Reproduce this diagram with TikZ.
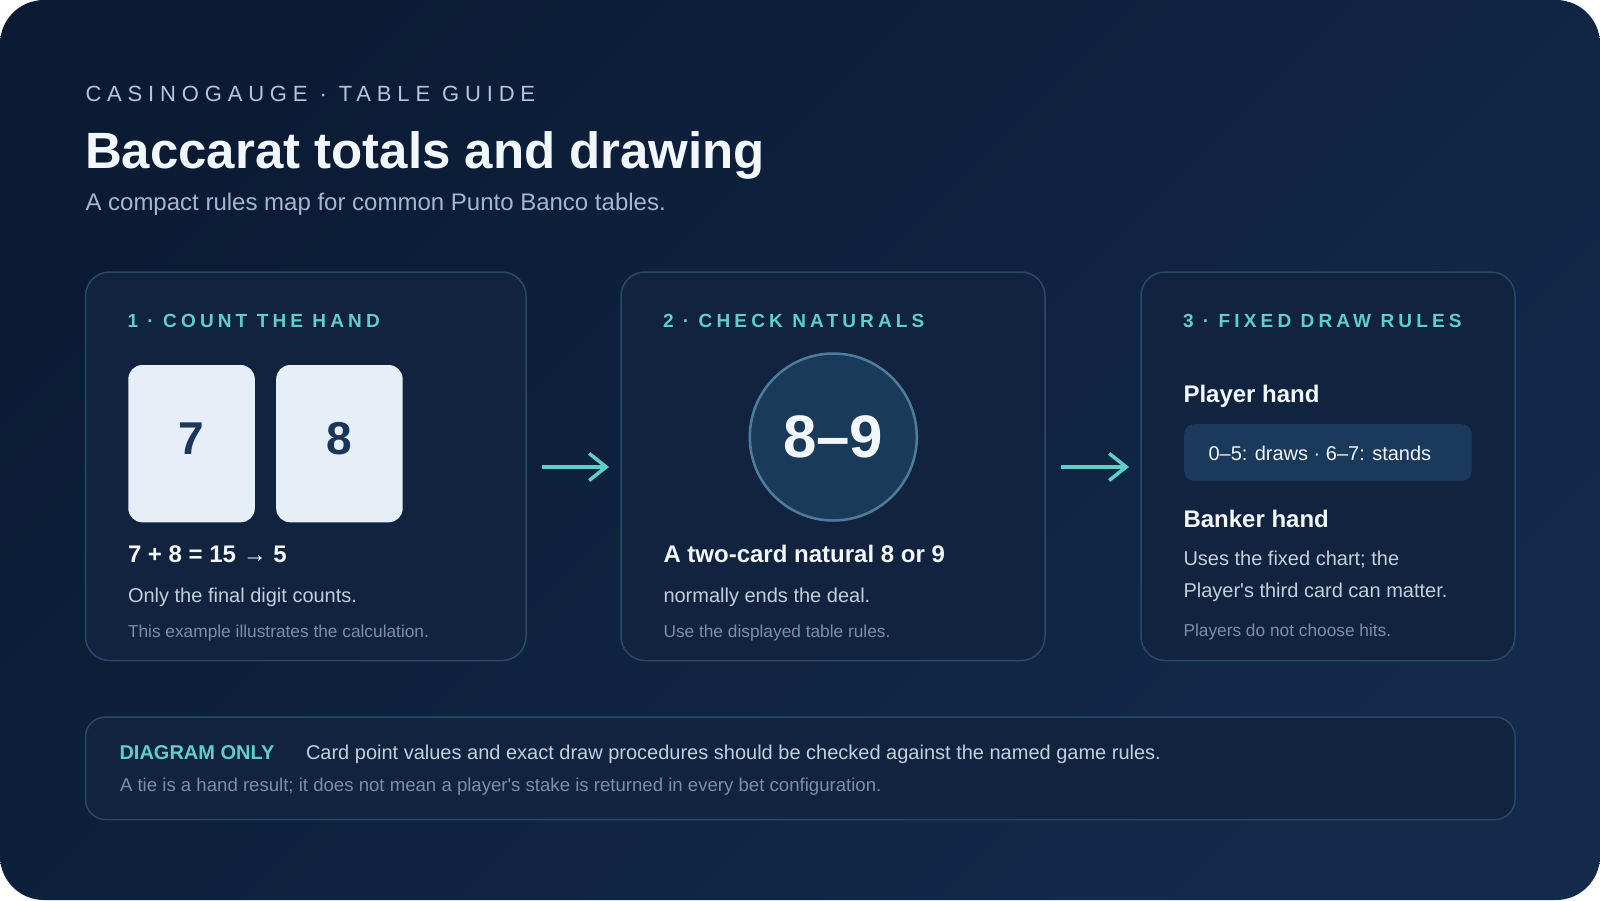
\documentclass[tikz,border=0pt]{standalone}
\usepackage{fontspec}
\setmainfont{Liberation Sans}[Ligatures=TeXOff]
\newfontfamily\trackA{Liberation Sans}[LetterSpace=26.5,Ligatures=TeXOff]
\newfontfamily\trackB{Liberation Sans}[LetterSpace=21.8,Ligatures=TeXOff]
\usetikzlibrary{arrows.meta}
\definecolor{bgA}{HTML}{0B1B34}
\definecolor{bgB}{HTML}{132A4B}
\definecolor{panelfill}{HTML}{11233E}
\definecolor{panelline}{HTML}{2A4868}
\definecolor{accent}{HTML}{5FCFC8}
\definecolor{txtW}{HTML}{F2F7FC}
\definecolor{txtL}{HTML}{C3CFDD}
\definecolor{txtG}{HTML}{7A8FA9}
\definecolor{hdrC}{HTML}{B5C6D9}
\definecolor{subC}{HTML}{A5B7CC}
\definecolor{cardC}{HTML}{E6EEF8}
\definecolor{cardT}{HTML}{1B3658}
\definecolor{circF}{HTML}{1A3A5A}
\definecolor{circL}{HTML}{4D7D9D}
\definecolor{boxF}{HTML}{1B3A5B}
\begin{document}
\begin{tikzpicture}[x=1pt,y=-1pt,
  txt/.style={anchor=base west, inner sep=0pt, outer sep=0pt},
  panel/.style={draw=panelline, line width=1.5pt, fill=panelfill, rounded corners=24pt, inner sep=0pt, outer sep=0pt, anchor=north west},
  card/.style={fill=cardC, rounded corners=14pt, inner sep=0pt, outer sep=0pt, anchor=north west, minimum width=126.5pt, minimum height=157.3pt, text height=33pt, text depth=12pt, font=\fontsize{46}{46}\selectfont\bfseries, text=cardT},
  arr/.style={draw=accent, line width=3.5pt, -{Straight Barb[length=17pt,width=27pt]}},
  kicker/.style={txt, font=\trackA\fontsize{22}{22}\selectfont, text=hdrC},
  ttl/.style={txt, font=\fontsize{51}{51}\selectfont\bfseries, text=txtW},
  subt/.style={txt, font=\fontsize{24}{24}\selectfont, text=subC},
  lbl/.style={txt, font=\trackB\fontsize{19}{19}\selectfont\bfseries, text=accent},
  hd/.style={txt, font=\fontsize{24}{24}\selectfont\bfseries, text=txtW},
  body/.style={txt, font=\fontsize{20}{20}\selectfont, text=txtL},
  note/.style={txt, font=\fontsize{17.3}{17.3}\selectfont, text=txtG},
  ]
\useasboundingbox (0,0) rectangle (1600,900);
\fill[white] (0,0) rectangle (1600,900);
\shade[rounded corners=44pt, top color=bgA, bottom color=bgB, shading angle=45] (0,0) rectangle (1600,900);

% header
\node[kicker] (kick) at (85.5,101.5) {CASINOGAUGE · TABLE GUIDE};
\node[ttl] (title) at (85,168.3) {Baccarat totals and drawing};
\node[subt] (sub) at (85.5,210.5) {A compact rules map for common Punto Banco tables.};

% panels
\node[panel, minimum width=440.5pt, minimum height=388.5pt] (p1) at (85.5,272) {};
\node[panel, minimum width=424pt, minimum height=388.5pt] (p2) at (621,272) {};
\node[panel, minimum width=374pt, minimum height=388.5pt] (p3) at (1141,272) {};
\node[panel, rounded corners=20pt, minimum width=1429.5pt, minimum height=102.5pt] (bot) at (85.5,717) {};

% arrows
\draw[arr] ([xshift=16pt,yshift=-0.7pt]p1.east) -- ([xshift=-12pt,yshift=-0.7pt]p2.west);
\draw[arr] ([xshift=16pt,yshift=-0.7pt]p2.east) -- ([xshift=-12pt,yshift=-0.7pt]p3.west);

% panel 1
\node[lbl] (l1) at (127.5,327.7) {1 · COUNT THE HAND};
\node[card] (c7) at (128.3,365) {7};
\node[card] (c8) at (276.2,365) {8};
\node[hd] (h1) at (128,562.3) {7 + 8 = 15 {\mdseries →} 5};
\node[body] (b1) at (128,602.7) {Only the final digit counts.};
\node[note] (n1) at (128,637.3) {This example illustrates the calculation.};

% panel 2
\node[lbl] (l2) at (663,327.7) {2 · CHECK NATURALS};
\node[circle, draw=circL, line width=2.5pt, fill=circF, minimum size=167pt, inner sep=0pt, text=txtW, font=\fontsize{60}{60}\selectfont\bfseries] (nat) at (833.3,437) {8–9};
\node[hd] (h2) at (663.5,562.3) {A two-card natural 8 or 9};
\node[body] (b2) at (663.5,602.7) {normally ends the deal.};
\node[note] (n2) at (663.5,637.3) {Use the displayed table rules.};

% panel 3
\node[lbl] (l3) at (1183,327.7) {3 · FIXED DRAW RULES};
\node[hd] (ph) at (1183.5,402.7) {Player hand};
\node[fill=boxF, rounded corners=10pt, inner sep=0pt, anchor=north west, minimum width=287.5pt, minimum height=56.7pt] (pbox) at (1184,424) {};
\node[body, text=txtW!92!txtL] (pbt) at (1208.5,460) {0–5: draws · 6–7: stands};
\node[hd] (bh) at (1183.5,527.3) {Banker hand};
\node[body] (b3a) at (1183.5,565.7) {Uses the fixed chart; the};
\node[body] (b3b) at (1183.5,597.7) {Player's third card can matter.};
\node[note] (n3) at (1183.5,636.7) {Players do not choose hits.};

% bottom
\node[txt, font=\fontsize{20}{20}\selectfont\bfseries, text=accent] (dgo) at (119.5,759) {DIAGRAM ONLY};
\node[body] (dgt) at (306,759) {Card point values and exact draw procedures should be checked against the named game rules.};
\node[note, font=\fontsize{18.6}{18.6}\selectfont] (tie) at (120,791.7) {A tie is a hand result; it does not mean a player's stake is returned in every bet configuration.};
\end{tikzpicture}
\end{document}
